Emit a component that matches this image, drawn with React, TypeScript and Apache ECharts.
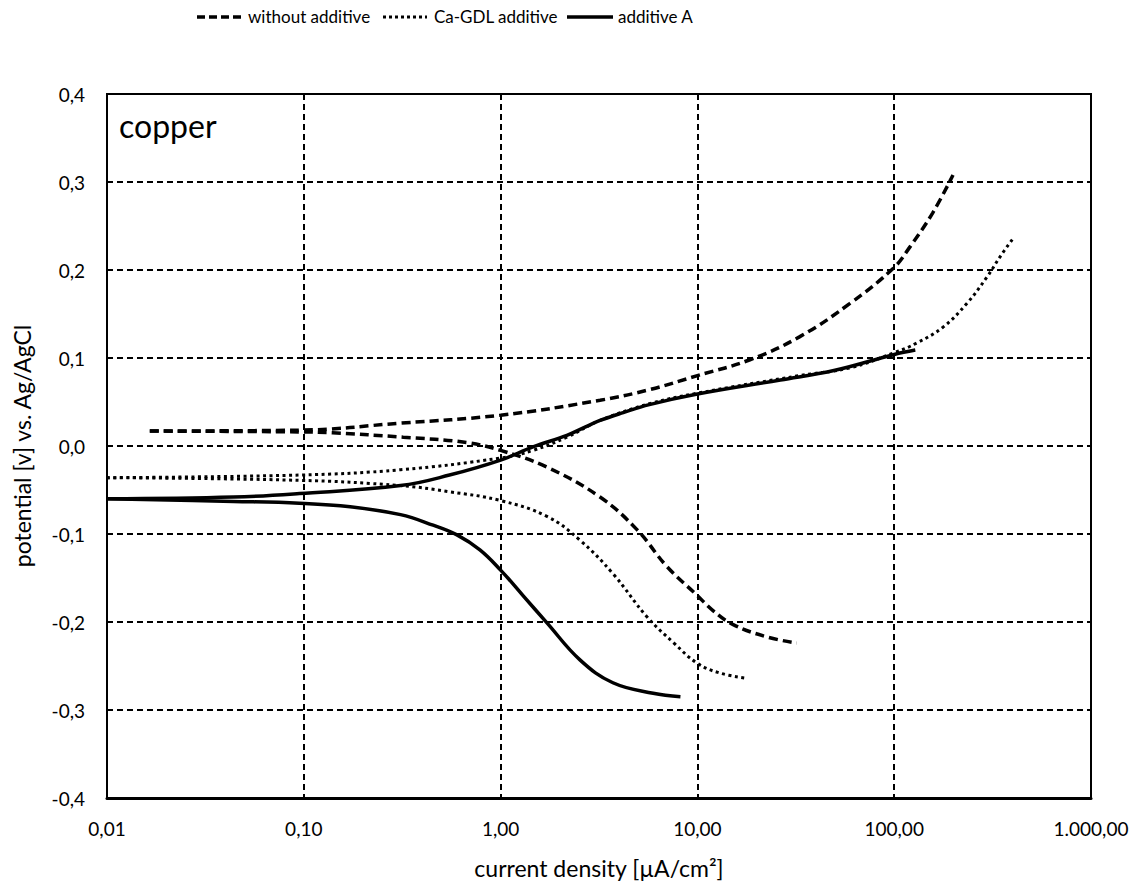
import React, { useEffect, useRef } from "react";
import * as echarts from "echarts";

const seriesNames = ["without additive", "Ca-GDL additive", "additive A"];

const xTickLabels = ["0,01", "0,10", "1,00", "10,00", "100,00", "1.000,00"];
const yTickLabels = ["-0,4", "-0,3", "-0,2", "-0,1", "0,0", "0,1", "0,2", "0,3", "0,4"];

// without additive — cathodic branch (lower) and anodic branch (upper), ascending current
const withoutCathX = [0.0165, 0.095, 0.14, 0.32, 0.67, 1.0, 1.72, 3.2, 4.93, 7.0, 10, 12, 15.2, 22.6, 32];
const withoutCathY = [0.017, 0.016, 0.015, 0.010, 0.004, -0.005, -0.024, -0.058, -0.095, -0.137, -0.170, -0.187, -0.203, -0.217, -0.224];
const withoutAnodX = [0.0165, 0.095, 0.31, 1, 3.2, 5.7, 10, 18.5, 33, 59.6, 100, 120, 157, 199];
const withoutAnodY = [0.017, 0.018, 0.026, 0.035, 0.052, 0.064, 0.080, 0.098, 0.124, 0.162, 0.203, 0.226, 0.265, 0.308];

// Ca-GDL additive
const cagdlCathX = [0.01, 0.095, 0.31, 0.55, 1, 1.72, 2.53, 3.72, 5.54, 7.6, 10, 13, 17.9];
const cagdlCathY = [-0.036, -0.039, -0.045, -0.052, -0.062, -0.080, -0.107, -0.145, -0.194, -0.224, -0.247, -0.258, -0.264];
const cagdlAnodX = [0.01, 0.095, 0.31, 1, 1.46, 2.17, 3.2, 5.7, 10, 33, 60, 100, 130, 177, 234, 296, 345, 402];
const cagdlAnodY = [-0.036, -0.033, -0.027, -0.0136, -0.005, 0.010, 0.029, 0.048, 0.060, 0.080, 0.089, 0.106, 0.117, 0.135, 0.162, 0.192, 0.215, 0.236];

// additive A
const addACathX = [0.01, 0.044, 0.095, 0.172, 0.31, 0.454, 0.6, 0.785, 1, 1.3, 1.72, 2.53, 3.72, 5.96, 8.2];
const addACathY = [-0.060, -0.063, -0.065, -0.069, -0.078, -0.090, -0.101, -0.118, -0.141, -0.170, -0.201, -0.243, -0.269, -0.281, -0.285];
const addAAnodX = [0.01, 0.044, 0.095, 0.31, 0.55, 1, 1.46, 2.17, 2.6, 3.2, 4.2, 5.7, 10, 26.4, 50, 100, 128];
const addAAnodY = [-0.060, -0.058, -0.054, -0.045, -0.033, -0.016, -0.001, 0.012, 0.020, 0.029, 0.038, 0.047, 0.059, 0.075, 0.086, 0.104, 0.109];

const zip = (xs: number[], ys: number[]) => xs.map((x, i) => [x, ys[i]]);

const FONT = "Lato";

export default function App() {
  const ref = useRef<HTMLDivElement>(null);
  useEffect(() => {
    if (!ref.current) return;
    const chart = echarts.init(ref.current, null, { renderer: "svg" });
    const lineBase = {
      type: "line",
      showSymbol: false,
      symbol: "none",
      smooth: 0.4,
      z: 5,
    } as any;
    const styles = [
      { color: "#000", width: 3.5, type: [9, 5] },
      { color: "#000", width: 3, type: [3, 3.5] },
      { color: "#000", width: 3.5, type: "solid" },
    ];
    const branches: [number, number[], number[]][] = [
      [0, withoutCathX, withoutCathY],
      [0, withoutAnodX, withoutAnodY],
      [1, cagdlCathX, cagdlCathY],
      [1, cagdlAnodX, cagdlAnodY],
      [2, addACathX, addACathY],
      [2, addAAnodX, addAAnodY],
    ];
    const legendLines = [
      { x1: 197, x2: 243, dash: [8, 4], w: 3.5, tx: 248 },
      { x1: 383, x2: 427, dash: [3, 3], w: 3, tx: 434 },
      { x1: 567, x2: 613, dash: null, w: 3.5, tx: 618 },
    ];
    const legendGraphics: any[] = [];
    legendLines.forEach((l, i) => {
      legendGraphics.push({
        type: "line",
        shape: { x1: l.x1, y1: 17, x2: l.x2, y2: 17 },
        style: { stroke: "#000", lineWidth: l.w, lineDash: l.dash || undefined },
      });
      legendGraphics.push({
        type: "text",
        x: l.tx,
        y: 16,
        style: { text: seriesNames[i], font: `17px ${FONT}`, fill: "#000", verticalAlign: "middle" },
      });
    });
    chart.setOption({
      animation: false,
      backgroundColor: "#fff",
      textStyle: { fontFamily: FONT, color: "#000" },
      grid: { left: 107, right: 55, top: 94, bottom: 92, show: true, borderColor: "#000", borderWidth: 2 },
      graphic: [
        ...legendGraphics,
        { type: "text", left: 119, top: 109, style: { text: "copper", font: `32px ${FONT}`, fill: "#000" } },
      ],
      xAxis: {
        type: "log",
        logBase: 10,
        min: 0.01,
        max: 1000,
        name: "current density [µA/cm²]",
        nameLocation: "middle",
        nameGap: 58,
        nameTextStyle: { fontSize: 23, fontFamily: FONT, color: "#000" },
        axisLine: { show: true, onZero: false, lineStyle: { color: "#000", width: 3 } },
        axisTick: { show: false },
        minorTick: { show: false },
        axisLabel: {
          fontSize: 19,
          fontFamily: FONT,
          color: "#000",
          margin: 21,
          formatter: (v: number) => xTickLabels[Math.round(Math.log10(v)) + 2],
        },
        splitLine: { show: true, lineStyle: { color: "#000", width: 2, type: [6, 4] } },
      },
      yAxis: {
        type: "value",
        min: -0.4,
        max: 0.4,
        interval: 0.1,
        name: "potential [v] vs. Ag/AgCl",
        nameLocation: "middle",
        nameGap: 74,
        nameTextStyle: { fontSize: 23, fontFamily: FONT, color: "#000" },
        axisLine: { show: true, onZero: false, lineStyle: { color: "#000", width: 2 } },
        axisTick: { show: false },
        axisLabel: {
          fontSize: 19,
          fontFamily: FONT,
          color: "#000",
          margin: 22,
          formatter: (v: number) => yTickLabels[Math.round(v * 10) + 4],
        },
        splitLine: { show: true, lineStyle: { color: "#000", width: 2, type: [6, 4] } },
      },
      series: branches.map(([k, xs, ys]) => ({
        ...lineBase,
        name: seriesNames[k],
        data: zip(xs, ys),
        itemStyle: { color: "#000" },
        lineStyle: styles[k],
      })),
    });
    return () => chart.dispose();
  }, []);
  return (
    <div
      ref={ref}
      style={{ position: "fixed", left: 0, top: 0, width: 1146, height: 890, background: "#fff" }}
    />
  );
}
